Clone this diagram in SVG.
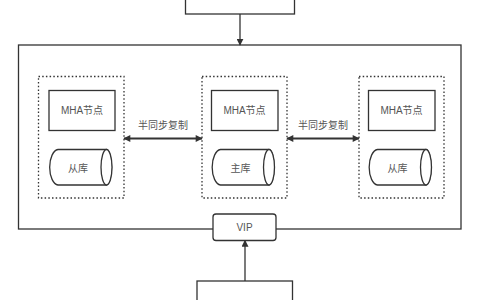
<svg xmlns="http://www.w3.org/2000/svg" width="480" height="300" viewBox="0 0 480 300">
<defs>
<style>
.s{fill:#fff;stroke:#333;stroke-width:1.3}
.d{fill:none;stroke:#333;stroke-width:1.3;stroke-dasharray:1.5 2.2}
.t{font-family:"Liberation Sans","Noto Sans CJK SC",sans-serif;font-size:10px;fill:#555;text-anchor:middle;dominant-baseline:central}
.c{fill:none;stroke:#333;stroke-width:1.3}
.w{stroke-width:1.8}
</style>
<marker id="ah" viewBox="0 0 10 10" refX="9" refY="5" markerWidth="7" markerHeight="7" orient="auto-start-reverse" markerUnits="userSpaceOnUse"><path d="M0,0L10,5L0,10z" fill="#333"/></marker>
<marker id="ah2" viewBox="0 0 10 10" refX="9" refY="5" markerWidth="8" markerHeight="7" orient="auto-start-reverse" markerUnits="userSpaceOnUse"><path d="M0,0L10,5L0,10z" fill="#333"/></marker>
</defs>
<rect width="480" height="300" fill="#fff"/>
<g id="top"><rect class="s" x="185.5" y="-2" width="109" height="16"/></g>
<g id="container"><rect class="s" x="18.5" y="45" width="442.5" height="184"/></g>
<g id="left">
<rect class="d" x="38.5" y="76.5" width="85.5" height="121.5"/>
<rect class="s" x="49" y="90.5" width="66" height="40"/>
<text class="t" x="82" y="110.5">MHA节点</text>
<path class="s" d="M58,149.5H106.5A5.5,17.8 0 0 1 106.5,185H58A9,17.8 0 0 1 58,149.5z"/>
<ellipse class="s" cx="106.5" cy="167.25" rx="5.5" ry="17.75"/>
<text class="t" x="78" y="168">从库</text>
</g>
<g id="middle">
<rect class="d" x="202" y="76.5" width="85" height="121.5"/>
<rect class="s" x="211.5" y="90.5" width="66.5" height="40"/>
<text class="t" x="244.5" y="110.5">MHA节点</text>
<path class="s" d="M220.5,149.5H269A5.5,17.8 0 0 1 269,185H220.5A9,17.8 0 0 1 220.5,149.5z"/>
<ellipse class="s" cx="269" cy="167.25" rx="5.5" ry="17.75"/>
<text class="t" x="240.5" y="168">主库</text>
</g>
<g id="right">
<rect class="d" x="359" y="76.5" width="85" height="121.5"/>
<rect class="s" x="368.5" y="90.5" width="66.5" height="40"/>
<text class="t" x="401.5" y="110.5">MHA节点</text>
<path class="s" d="M377.5,149.5H426A5.5,17.8 0 0 1 426,185H377.5A9,17.8 0 0 1 377.5,149.5z"/>
<ellipse class="s" cx="426" cy="167.25" rx="5.5" ry="17.75"/>
<text class="t" x="397.5" y="168">从库</text>
</g>
<g id="vip"><rect class="s" x="213" y="214" width="63" height="26.5" rx="3"/><text class="t" x="244.5" y="227.5">VIP</text></g>
<g id="bottom"><rect class="s" x="197" y="281" width="95.5" height="25"/></g>
<g id="connectors">
<path class="c" d="M240,14V45" marker-end="url(#ah)"/>
<path class="c w" d="M124,138.5H202" marker-start="url(#ah2)" marker-end="url(#ah2)"/>
<path class="c w" d="M287,138.5H359" marker-start="url(#ah2)" marker-end="url(#ah2)"/>
<path class="c" d="M245,281V240.5" marker-end="url(#ah)"/>
<text class="t" x="163" y="125">半同步复制</text>
<text class="t" x="323" y="125">半同步复制</text>
</g>
</svg>
